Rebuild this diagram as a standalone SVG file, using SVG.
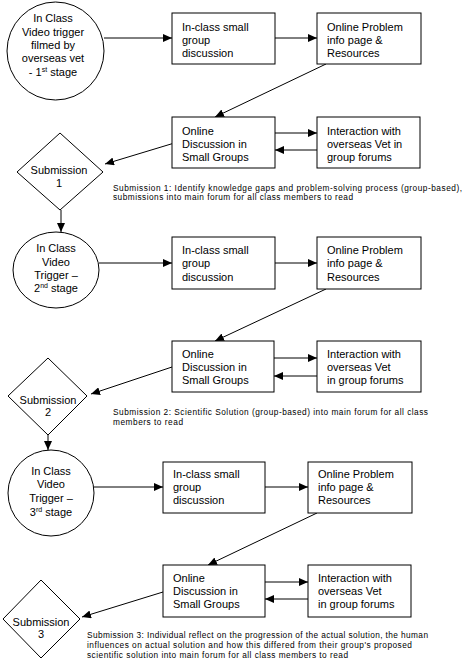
<svg xmlns="http://www.w3.org/2000/svg" width="465" height="665" viewBox="0 0 465 665">
<defs>
<marker id="ah" markerUnits="userSpaceOnUse" markerWidth="9" markerHeight="8" refX="9" refY="4" orient="auto">
<path d="M0,0 L9,4 L0,8 z" fill="#000"/>
</marker>
<style>
.n{fill:#fff;stroke:#000;stroke-width:1}
.t{font-family:"Liberation Sans",Arial,sans-serif;font-size:11px;fill:#000}
.m{text-anchor:middle}
.c{font-family:"Liberation Sans",Arial,sans-serif;font-size:8.3px;fill:#000}
.e{stroke:#000;stroke-width:1;fill:none;marker-end:url(#ah)}
.s{font-size:7px}
</style>
</defs>
<rect width="465" height="665" fill="#fff"/>
<g id="connectors">
<line class="e" x1="104" y1="38" x2="172" y2="38"/>
<line class="e" x1="275" y1="38" x2="317" y2="38"/>
<line class="e" x1="326" y1="64" x2="215" y2="117"/>
<line class="e" x1="275" y1="133" x2="317" y2="133"/>
<line class="e" x1="317" y1="150" x2="275" y2="150"/>
<line class="e" x1="181" y1="141" x2="105" y2="164"/>
<line class="e" x1="61" y1="210" x2="61" y2="232"/>
<line class="e" x1="99" y1="263" x2="172" y2="263"/>
<line class="e" x1="275" y1="263" x2="317" y2="263"/>
<line class="e" x1="326" y1="289" x2="215" y2="341"/>
<line class="e" x1="274" y1="358" x2="317" y2="358"/>
<line class="e" x1="317" y1="376" x2="274" y2="376"/>
<line class="e" x1="172" y1="367" x2="91" y2="394"/>
<line class="e" x1="48" y1="435" x2="48" y2="450"/>
<line class="e" x1="94" y1="487" x2="163" y2="487"/>
<line class="e" x1="265" y1="487" x2="308" y2="487"/>
<line class="e" x1="317" y1="513" x2="208" y2="565"/>
<line class="e" x1="265" y1="582" x2="308" y2="582"/>
<line class="e" x1="308" y1="599" x2="265" y2="599"/>
<line class="e" x1="163" y1="592" x2="82" y2="617"/>
</g>
<g id="trigger1">
<ellipse class="n" cx="55.5" cy="51" rx="48.5" ry="49"/>
<text class="t m" x="53" y="22">In Class</text>
<text class="t m" x="53" y="35.5">Video trigger</text>
<text class="t m" x="53" y="49">filmed by</text>
<text class="t m" x="53" y="62">overseas  vet</text>
<text class="t m" x="53" y="76">- 1<tspan class="s" dy="-4">st</tspan><tspan dy="4"> stage</tspan></text>
</g>
<g id="group1">
<rect class="n" x="172" y="13" width="103" height="51"/>
<text class="t" x="182" y="31">In-class small</text>
<text class="t" x="182" y="44">group</text>
<text class="t" x="182" y="57">discussion</text>
</g>
<g id="info1">
<rect class="n" x="317" y="13" width="104" height="51"/>
<text class="t" x="327" y="31">Online Problem</text>
<text class="t" x="327" y="44">info page &amp;</text>
<text class="t" x="327" y="57">Resources</text>
</g>
<g id="discussion1">
<rect class="n" x="172" y="117" width="103" height="51"/>
<text class="t" x="182" y="135">Online</text>
<text class="t" x="182" y="148">Discussion in</text>
<text class="t" x="182" y="161">Small Groups</text>
</g>
<g id="interaction1">
<rect class="n" x="317" y="117" width="103" height="51"/>
<text class="t" x="327" y="135">Interaction  with</text>
<text class="t" x="327" y="148">overseas  Vet in</text>
<text class="t" x="327" y="161">group  forums</text>
</g>
<g id="submission1">
<polygon class="n" points="60,133 103,172 60,210 17,172"/>
<text class="t m" x="59" y="174">Submission</text>
<text class="t m" x="59" y="187">1</text>
</g>
<g id="caption1">
<text class="c" x="113" y="191" textLength="349" lengthAdjust="spacing">Submission 1: Identify knowledge gaps and problem-solving  process (group-based),</text>
<text class="c" x="113" y="200" textLength="240" lengthAdjust="spacing">submissions into main forum for all class members to read</text>
</g>
<g id="trigger2">
<ellipse class="n" cx="56" cy="270" rx="43" ry="38"/>
<text class="t m" x="56" y="252">In Class</text>
<text class="t m" x="56" y="266">Video</text>
<text class="t m" x="56" y="279">Trigger –</text>
<text class="t m" x="56" y="292">2<tspan class="s" dy="-4">nd</tspan><tspan dy="4"> stage</tspan></text>
</g>
<g id="group2">
<rect class="n" x="172" y="237" width="103" height="52"/>
<text class="t" x="182" y="254">In-class small</text>
<text class="t" x="182" y="267">group</text>
<text class="t" x="182" y="281">discussion</text>
</g>
<g id="info2">
<rect class="n" x="317" y="237" width="104" height="52"/>
<text class="t" x="327" y="254">Online Problem</text>
<text class="t" x="327" y="267">info page &amp;</text>
<text class="t" x="327" y="281">Resources</text>
</g>
<g id="discussion2">
<rect class="n" x="172" y="341" width="102" height="51"/>
<text class="t" x="182" y="358">Online</text>
<text class="t" x="182" y="371">Discussion  in</text>
<text class="t" x="182" y="384">Small Groups</text>
</g>
<g id="interaction2">
<rect class="n" x="317" y="341" width="104" height="51"/>
<text class="t" x="327" y="358">Interaction  with</text>
<text class="t" x="327" y="371">overseas  Vet</text>
<text class="t" x="327" y="384">in group  forums</text>
</g>
<g id="submission2">
<polygon class="n" points="48,358 87,396 48,435 8,396"/>
<text class="t m" x="48" y="404">Submission</text>
<text class="t m" x="48" y="416">2</text>
</g>
<g id="caption2">
<text class="c" x="113" y="415" textLength="315" lengthAdjust="spacing">Submission 2: Scientific Solution (group-based) into main forum for all class</text>
<text class="c" x="113" y="425" textLength="70" lengthAdjust="spacing">members  to read</text>
</g>
<g id="trigger3">
<ellipse class="n" cx="51" cy="493" rx="43" ry="43"/>
<text class="t m" x="51" y="475">In Class</text>
<text class="t m" x="51" y="488">Video</text>
<text class="t m" x="51" y="502">Trigger –</text>
<text class="t m" x="51" y="516">3<tspan class="s" dy="-4">rd</tspan><tspan dy="4"> stage</tspan></text>
</g>
<g id="group3">
<rect class="n" x="163" y="462" width="102" height="51"/>
<text class="t" x="173" y="478">In-class small</text>
<text class="t" x="173" y="491">group</text>
<text class="t" x="173" y="504">discussion</text>
</g>
<g id="info3">
<rect class="n" x="308" y="462" width="104" height="51"/>
<text class="t" x="318" y="478">Online Problem</text>
<text class="t" x="318" y="491">info page &amp;</text>
<text class="t" x="318" y="504">Resources</text>
</g>
<g id="discussion3">
<rect class="n" x="163" y="565" width="102" height="52"/>
<text class="t" x="173" y="582">Online</text>
<text class="t" x="173" y="595">Discussion  in</text>
<text class="t" x="173" y="608">Small Groups</text>
</g>
<g id="interaction3">
<rect class="n" x="308" y="565" width="103" height="52"/>
<text class="t" x="318" y="582">Interaction  with</text>
<text class="t" x="318" y="595">overseas  Vet</text>
<text class="t" x="318" y="608">in group  forums</text>
</g>
<g id="submission3">
<polygon class="n" points="41,580 80,619 41,658 3,619"/>
<text class="t m" x="41" y="626">Submission</text>
<text class="t m" x="41" y="638">3</text>
</g>
<g id="caption3">
<text class="c" x="87" y="638" textLength="341" lengthAdjust="spacing">Submission 3: Individual  reflect on the progression  of the actual solution, the human</text>
<text class="c" x="87" y="648" textLength="325" lengthAdjust="spacing">influences on actual solution  and how this differed  from their group's proposed</text>
<text class="c" x="87" y="658" textLength="261" lengthAdjust="spacing">scientific solution  into main forum for all class members to read</text>
</g>
</svg>
